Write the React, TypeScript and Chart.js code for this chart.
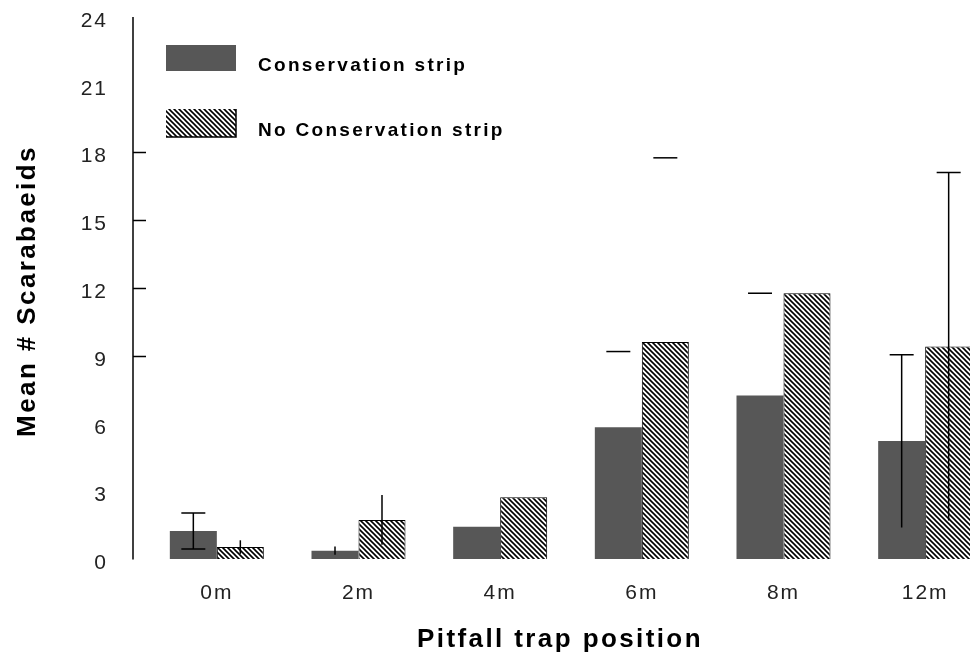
import React, { useEffect, useRef } from "react";
import { Chart, registerables } from "chart.js";

Chart.register(...registerables);

// ---- data ----
const categories = ["0m", "2m", "4m", "6m", "8m", "12m"];
const seriesLabels = ["Conservation strip", "No Conservation strip"];
const consMeans = [1.26, 0.39, 1.45, 5.85, 7.25, 5.24];
const consErr = [0.8, 0.18, 0, 3.35, 4.53, 3.82];
const noConsMeans = [0.55, 1.75, 2.75, 9.62, 11.78, 9.42];
const noConsErr = [0.3, 1.1, 0, 8.15, 0, 7.7];
// which parts of each error bar are visible in the original figure
const consStem = [true, true, false, false, false, true];
const consCapTop = [true, false, false, true, true, true];
const consCapBottom = [true, false, false, false, false, false];
const noConsStem = [true, true, false, false, false, true];
const noConsCapTop = [false, false, false, true, false, true];
const noConsCapBottom = [false, false, false, false, false, false];
const yMin = 0;
const yMax = 24;
const yStep = 3;
const yTickMarkValues = [9, 12, 15, 18];
const yTitle = "Mean # Scarabaeids";
const xTitle = "Pitfall trap position";

const FONT = "'Liberation Sans', Arial, Helvetica, sans-serif";
const DARK = "#575757";

function makeHatch(): CanvasPattern | string {
  const s = 5;
  const c = document.createElement("canvas");
  c.width = s;
  c.height = s;
  const g = c.getContext("2d");
  if (!g) return "#fff";
  g.fillStyle = "#fff";
  g.fillRect(0, 0, s, s);
  g.strokeStyle = "#000";
  g.lineWidth = 1.6;
  g.beginPath();
  g.moveTo(-1, -1);
  g.lineTo(s + 1, s + 1);
  g.moveTo(-1, s - 1);
  g.lineTo(1, s + 1);
  g.moveTo(s - 1, -1);
  g.lineTo(s + 1, 1);
  g.stroke();
  const p = g.createPattern(c, "repeat");
  return p || "#fff";
}

export default function App() {
  const ref = useRef<HTMLCanvasElement | null>(null);

  useEffect(() => {
    const canvas = ref.current;
    if (!canvas) return;
    const hatch = makeHatch();

    const errors = [
      { err: consErr, stem: consStem, capTop: consCapTop, capBottom: consCapBottom },
      { err: noConsErr, stem: noConsStem, capTop: noConsCapTop, capBottom: noConsCapBottom },
    ];

    const spacingPlugin = {
      id: "spacing",
      beforeDraw(chart: any) {
        (chart.ctx as any).letterSpacing = "2px";
      },
      afterDraw(chart: any) {
        (chart.ctx as any).letterSpacing = "0px";
      },
    };

    const decorPlugin = {
      id: "decor",
      afterDatasetsDraw(chart: any) {
        const ctx = chart.ctx as CanvasRenderingContext2D;
        const y = chart.scales.y;
        ctx.save();
        ctx.strokeStyle = "#000";
        ctx.lineWidth = 1.5;
        chart.data.datasets.forEach((ds: any, di: number) => {
          const meta = chart.getDatasetMeta(di);
          const e = errors[di];
          ds.data.forEach((v: number, i: number) => {
            const err = e.err[i];
            if (!err) return;
            const x = meta.data[i].x;
            const yt = y.getPixelForValue(v + err);
            const yb = y.getPixelForValue(Math.max(0, v - err));
            const half = 12;
            ctx.beginPath();
            if (e.stem[i]) {
              ctx.moveTo(x, yt);
              ctx.lineTo(x, yb);
            }
            if (e.capTop[i]) {
              ctx.moveTo(x - half, yt);
              ctx.lineTo(x + half, yt);
            }
            if (e.capBottom[i]) {
              ctx.moveTo(x - half, yb);
              ctx.lineTo(x + half, yb);
            }
            ctx.stroke();
          });
        });
        ctx.restore();
      },
      afterDraw(chart: any) {
        const ctx = chart.ctx as CanvasRenderingContext2D;
        const area = chart.chartArea;
        ctx.save();
        (ctx as any).letterSpacing = "0px";
        // y axis line
        ctx.strokeStyle = "#000";
        ctx.lineWidth = 1.5;
        ctx.beginPath();
        ctx.moveTo(133, area.top);
        ctx.lineTo(133, area.bottom);
        ctx.stroke();

        // legend
        const sx = 166;
        const sw = 70;
        const rows = [
          { top: 45, h: 26 },
          { top: 109, h: 28 },
        ];
        const ds = chart.data.datasets;
        rows.forEach((r, i) => {
          ctx.fillStyle = ds[i].backgroundColor;
          ctx.fillRect(sx, r.top, sw, r.h);
          if (i === 1) {
            ctx.beginPath();
            ctx.moveTo(sx + sw, r.top);
            ctx.lineTo(sx + sw, r.top + r.h);
            ctx.lineTo(sx, r.top + r.h);
            ctx.stroke();
          }
          ctx.fillStyle = "#000";
          (ctx as any).letterSpacing = "2.3px";
          ctx.font = `bold 19px ${FONT}`;
          ctx.textAlign = "left";
          ctx.textBaseline = "alphabetic";
          ctx.fillText(ds[i].label, 258, r.top + r.h / 2 + 13);
        });

        // axis titles
        ctx.fillStyle = "#000";
        ctx.font = `bold 26px ${FONT}`;
        (ctx as any).letterSpacing = "2.4px";
        ctx.textAlign = "center";
        ctx.textBaseline = "alphabetic";
        ctx.fillText(xTitle, 560, 647);

        ctx.save();
        ctx.translate(35, 291);
        ctx.rotate(-Math.PI / 2);
        ctx.fillText(yTitle, 0, 0);
        ctx.restore();
        ctx.restore();
      },
    };

    const chart = new Chart(canvas, {
      type: "bar",
      data: {
        labels: categories,
        datasets: [
          {
            label: seriesLabels[0],
            data: consMeans,
            backgroundColor: DARK,
            borderWidth: 0,
            categoryPercentage: 0.6635,
            barPercentage: 1,
          },
          {
            label: seriesLabels[1],
            data: noConsMeans,
            backgroundColor: hatch as any,
            borderColor: "#000",
            borderWidth: 1,
            borderSkipped: "bottom",
            categoryPercentage: 0.6635,
            barPercentage: 1,
          },
        ],
      },
      options: {
        responsive: false,
        animation: false,
        layout: { padding: { top: 17, right: 14, left: 0, bottom: 0 } },
        plugins: {
          legend: { display: false },
          tooltip: { enabled: false },
          title: { display: false },
        },
        scales: {
          x: {
            offset: true,
            grid: { display: false, drawTicks: false },
            border: { display: false },
            ticks: {
              color: "#222",
              font: { family: FONT, size: 21 },
              padding: 21,
              maxRotation: 0,
            },
            afterFit: (s: any) => {
              s.height = 99.5;
            },
          },
          y: {
            min: yMin,
            max: yMax,
            grid: {
              drawOnChartArea: false,
              drawTicks: true,
              tickLength: 13,
              tickWidth: 1.5,
              tickColor: (c: any) =>
                c.tick && yTickMarkValues.includes(c.tick.value) ? "#000" : "rgba(0,0,0,0)",
            },
            border: { display: false },
            ticks: {
              stepSize: yStep,
              color: "#222",
              font: { family: FONT, size: 21 },
              padding: 25,
              labelOffset: 4,
            },
            afterFit: (s: any) => {
              s.width = 146;
              s.paddingTop = 0;
              s.paddingBottom = 0;
            },
          },
        },
      },
      plugins: [spacingPlugin, decorPlugin],
    });

    return () => chart.destroy();
  }, []);

  return (
    <div
      style={{
        position: "fixed",
        left: 0,
        top: 0,
        width: 970,
        height: 659,
        overflow: "hidden",
        background: "#fff",
      }}
    >
      <canvas ref={ref} width={1010} height={659} style={{ display: "block" }} />
    </div>
  );
}
